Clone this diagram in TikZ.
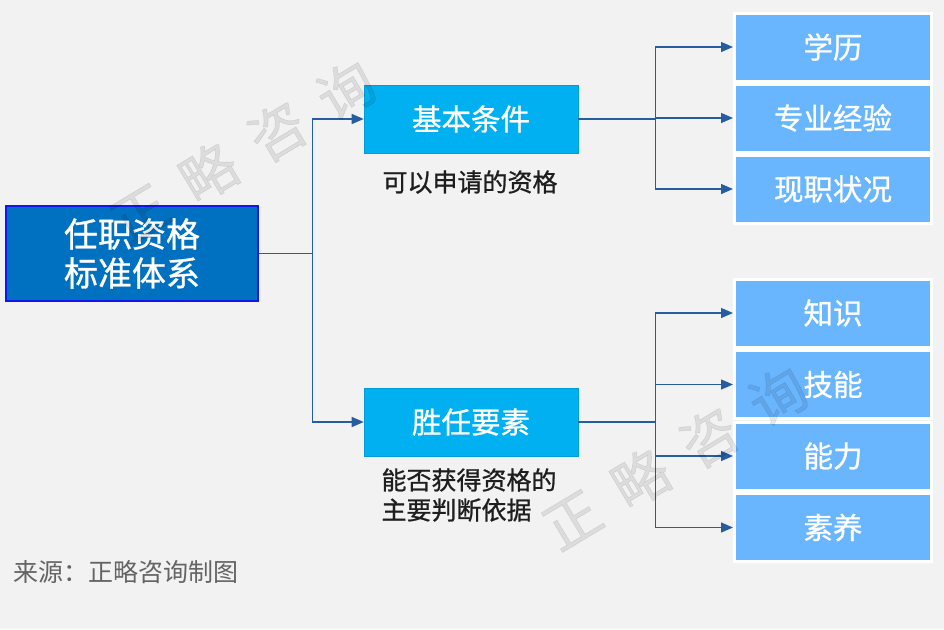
\documentclass[tikz,border=0pt]{standalone}
\usepackage{fontspec}
\setmainfont{Noto Sans CJK SC}
\newfontfamily\medfont[FakeBold=0.9]{Noto Sans CJK SC}
\usetikzlibrary{arrows.meta, positioning}
\definecolor{pagebg}{RGB}{242, 242, 242}
\definecolor{mainfill}{RGB}{0, 112, 192}
\definecolor{mainborder}{RGB}{20, 20, 240}
\definecolor{groupfill}{RGB}{0, 176, 240}
\definecolor{leaffill}{RGB}{105, 182, 255}
\definecolor{linkblue}{RGB}{38, 92, 160}
\definecolor{notetext}{RGB}{30, 30, 30}
\definecolor{sourcetext}{RGB}{100, 100, 100}

\begin{document}
\begin{tikzpicture}[
    x=1pt, y=-1pt,
    mainbox/.style={
        rectangle, draw=mainborder, fill=mainfill, line width=1.5pt,
        inner sep=0pt, align=center, minimum width=252pt, minimum height=95pt,
        text=white, font=\medfont\fontsize{34}{39}\selectfont
    },
    groupbox/.style={
        rectangle, draw=groupfill!90!black, fill=groupfill, line width=0.6pt,
        inner sep=0pt, align=center, minimum width=214pt, minimum height=68pt,
        text=white, font=\medfont\fontsize{29.5}{34}\selectfont
    },
    leafbox/.style={
        rectangle, draw=white, fill=leaffill, line width=3pt,
        inner sep=0pt, align=center, minimum width=197pt, minimum height=68pt,
        text=white, font=\medfont\fontsize{29.5}{34}\selectfont
    },
    note/.style={
        inner sep=0pt, align=left, text=notetext,
        font=\medfont\fontsize{25}{30}\selectfont
    },
    arrow/.style={
        -{Triangle[length=12pt, width=10pt]},
        line width=1.3pt, draw=linkblue
    },
    wmark/.style={
        inner sep=0pt, text=black, text opacity=0.09,
        font=\medfont\fontsize{56}{60}\selectfont, rotate=31
    }
]

% background
\fill[pagebg] (0,0) rectangle (944,629);
\useasboundingbox (0,0) rectangle (944,629);

% 1. Root
\node[mainbox] (root) at (132, 253.5) {任职资格\\标准体系};

% 2. Groups
\node[groupbox] (basic) at (471, 119) {基本条件};
\node[note] (basicnote) at (470, 182) {可以申请的资格};

\node[groupbox] (comp) at (471, 422) {胜任要素};
\node[note] (compnote) at (469, 495) {能否获得资格的\\主要判断依据};

% 3. Leaves
\node[leafbox] (edu)  at (833, 47)  {学历};
\node[leafbox] (exp)  at (833, 118) {专业经验};
\node[leafbox] (post) at (833, 189) {现职状况};

\node[leafbox] (know)  at (833, 313) {知识};
\node[leafbox] (skill) at (833, 384.5) {技能};
\node[leafbox] (able)  at (833, 456) {能力};
\node[leafbox] (grace) at (833, 527.5) {素养};

% source
\node[anchor=west, inner sep=0pt, text=sourcetext, font=\fontsize{25}{28}\selectfont]
    (source) at (13, 572) {来源：正略咨询制图};

% ================= Connectors =================
\draw[arrow] (root.east) -- ++(54,0) |- (basic.west);
\draw[arrow] (root.east) -- ++(54,0) |- (comp.west);

\foreach \leaf in {edu, exp, post}
    \draw[arrow] (basic.east) -- ++(77,0) |- (\leaf.west);

\foreach \leaf in {know, skill, able, grace}
    \draw[arrow] (comp.east) -- ++(77,0) |- (\leaf.west);

% watermark
\node[wmark] (wmarkA) at (243, 152) {正\hspace{24pt}略\hspace{24pt}咨\hspace{24pt}询};
\node[wmark] (wmarkB) at (675, 458) {正\hspace{24pt}略\hspace{24pt}咨\hspace{24pt}询};

\end{tikzpicture}
\end{document}
